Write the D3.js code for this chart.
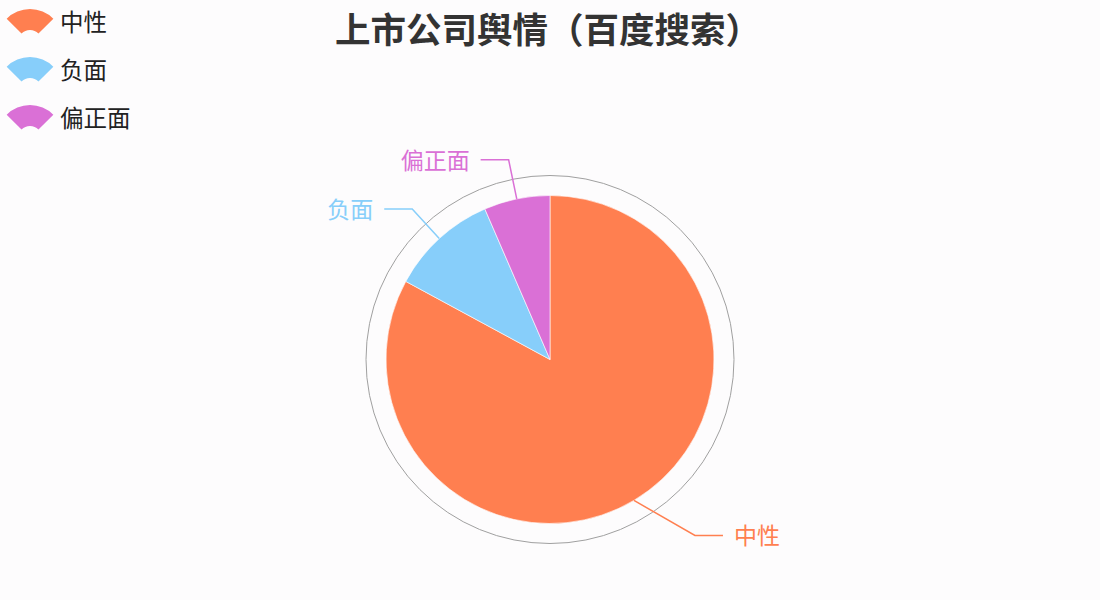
<!DOCTYPE html>
<html>
    <head>
        <meta charset="utf-8">
        <script src="https://d3js.org/d3.v7.min.js"></script>
        <style>
          body { margin: 0; background: #fdfcfd; }
          #chart { width: 1100px; height: 600px; position: relative; }
          text { font-family: "Noto Sans CJK SC", "Noto Sans", sans-serif; }
      </style>
    </head>
    <body>
        <div id="chart"></div>
        <script>

            /* DATA */
            var categories = ["中性", "负面", "偏正面"];
            var values = [82.9, 10.6, 6.5];
            var colors = ["#ff7f50", "#87cefa", "#da70d6"];
            var titleText = "上市公司舆情（百度搜索）";

            var width = 1100, height = 600;
            var cx = 550, cy = 359.5, radius = 164, ringRadius = 184;

            var svg = d3.select("#chart")
                .append("svg")
                .attr("width", width)
                .attr("height", height);

            /* TITLE */
            svg.append("text")
                .attr("x", cx - 2)
                .attr("y", 27)
                .attr("text-anchor", "middle")
                .attr("dominant-baseline", "central")
                .attr("font-size", 35.5)
                .attr("font-weight", "bold")
                .attr("fill", "#333333")
                .text(titleText);

            /* LEGEND with fan shaped icons */
            var fan = d3.arc()
                .innerRadius(12)
                .outerRadius(33)
                .startAngle(-Math.PI / 4)
                .endAngle(Math.PI / 4);

            var legend = svg.append("g")
                .selectAll("g")
                .data(categories)
                .enter()
                .append("g")
                    .attr("transform", function(d, i) { return "translate(0," + (i * 48) + ")"; });

            legend.append("path")
                .attr("d", fan)
                .attr("transform", "translate(30,42)")
                .attr("fill", function(d, i) { return colors[i]; });

            legend.append("text")
                .attr("x", 60)
                .attr("y", 21)
                .attr("dominant-baseline", "central")
                .attr("font-size", 23.5)
                .attr("fill", "#222222")
                .text(function(d) { return d; });

            /* OUTER RING */
            var g = svg.append("g").attr("transform", "translate(" + cx + "," + cy + ")");

            g.append("circle")
                .attr("r", ringRadius)
                .attr("fill", "none")
                .attr("stroke", "#a0a0a0")
                .attr("stroke-width", 1);

            /* PIE */
            var pie = d3.pie().sort(null).value(function(d) { return d; });
            var arcs = pie(values);
            var arc = d3.arc().innerRadius(0).outerRadius(radius);

            g.selectAll("path.slice")
                .data(arcs)
                .enter()
                .append("path")
                    .attr("class", "slice")
                    .attr("d", arc)
                    .attr("fill", function(d, i) { return colors[i]; })
                    .attr("stroke", "#ffffff")
                    .attr("stroke-opacity", 0.6)
                    .attr("stroke-width", 1);

            /* LABELS */
            var len1 = 40, len2 = 28, gap = 11;
            // lower label is pushed by the layout, like the original
            var nudge = {"中性": {angle: -8.7, extra: 24}};

            function polar(a, r) {
                return [Math.sin(a) * r, -Math.cos(a) * r];
            }

            arcs.forEach(function(d, i) {
                var name = categories[i];
                var mid = (d.startAngle + d.endAngle) / 2;
                var n = nudge[name] || {angle: 0, extra: 0};
                var p0 = polar(mid, radius);
                var p1 = polar(mid + n.angle * Math.PI / 180, radius + len1 + n.extra);
                var side = p1[0] >= 0 ? 1 : -1;
                var p2 = [p1[0] + side * len2, p1[1]];

                g.append("polyline")
                    .attr("points", [p0, p1, p2].map(function(p) { return p.join(","); }).join(" "))
                    .attr("fill", "none")
                    .attr("stroke", colors[i])
                    .attr("stroke-width", 1.5);

                g.append("text")
                    .attr("x", p2[0] + side * gap)
                    .attr("y", p2[1] - 1)
                    .attr("text-anchor", side > 0 ? "start" : "end")
                    .attr("dominant-baseline", "central")
                    .attr("font-size", 23)
                    .attr("fill", colors[i])
                    .text(name);
            });

        </script>
    </body>
</html>
